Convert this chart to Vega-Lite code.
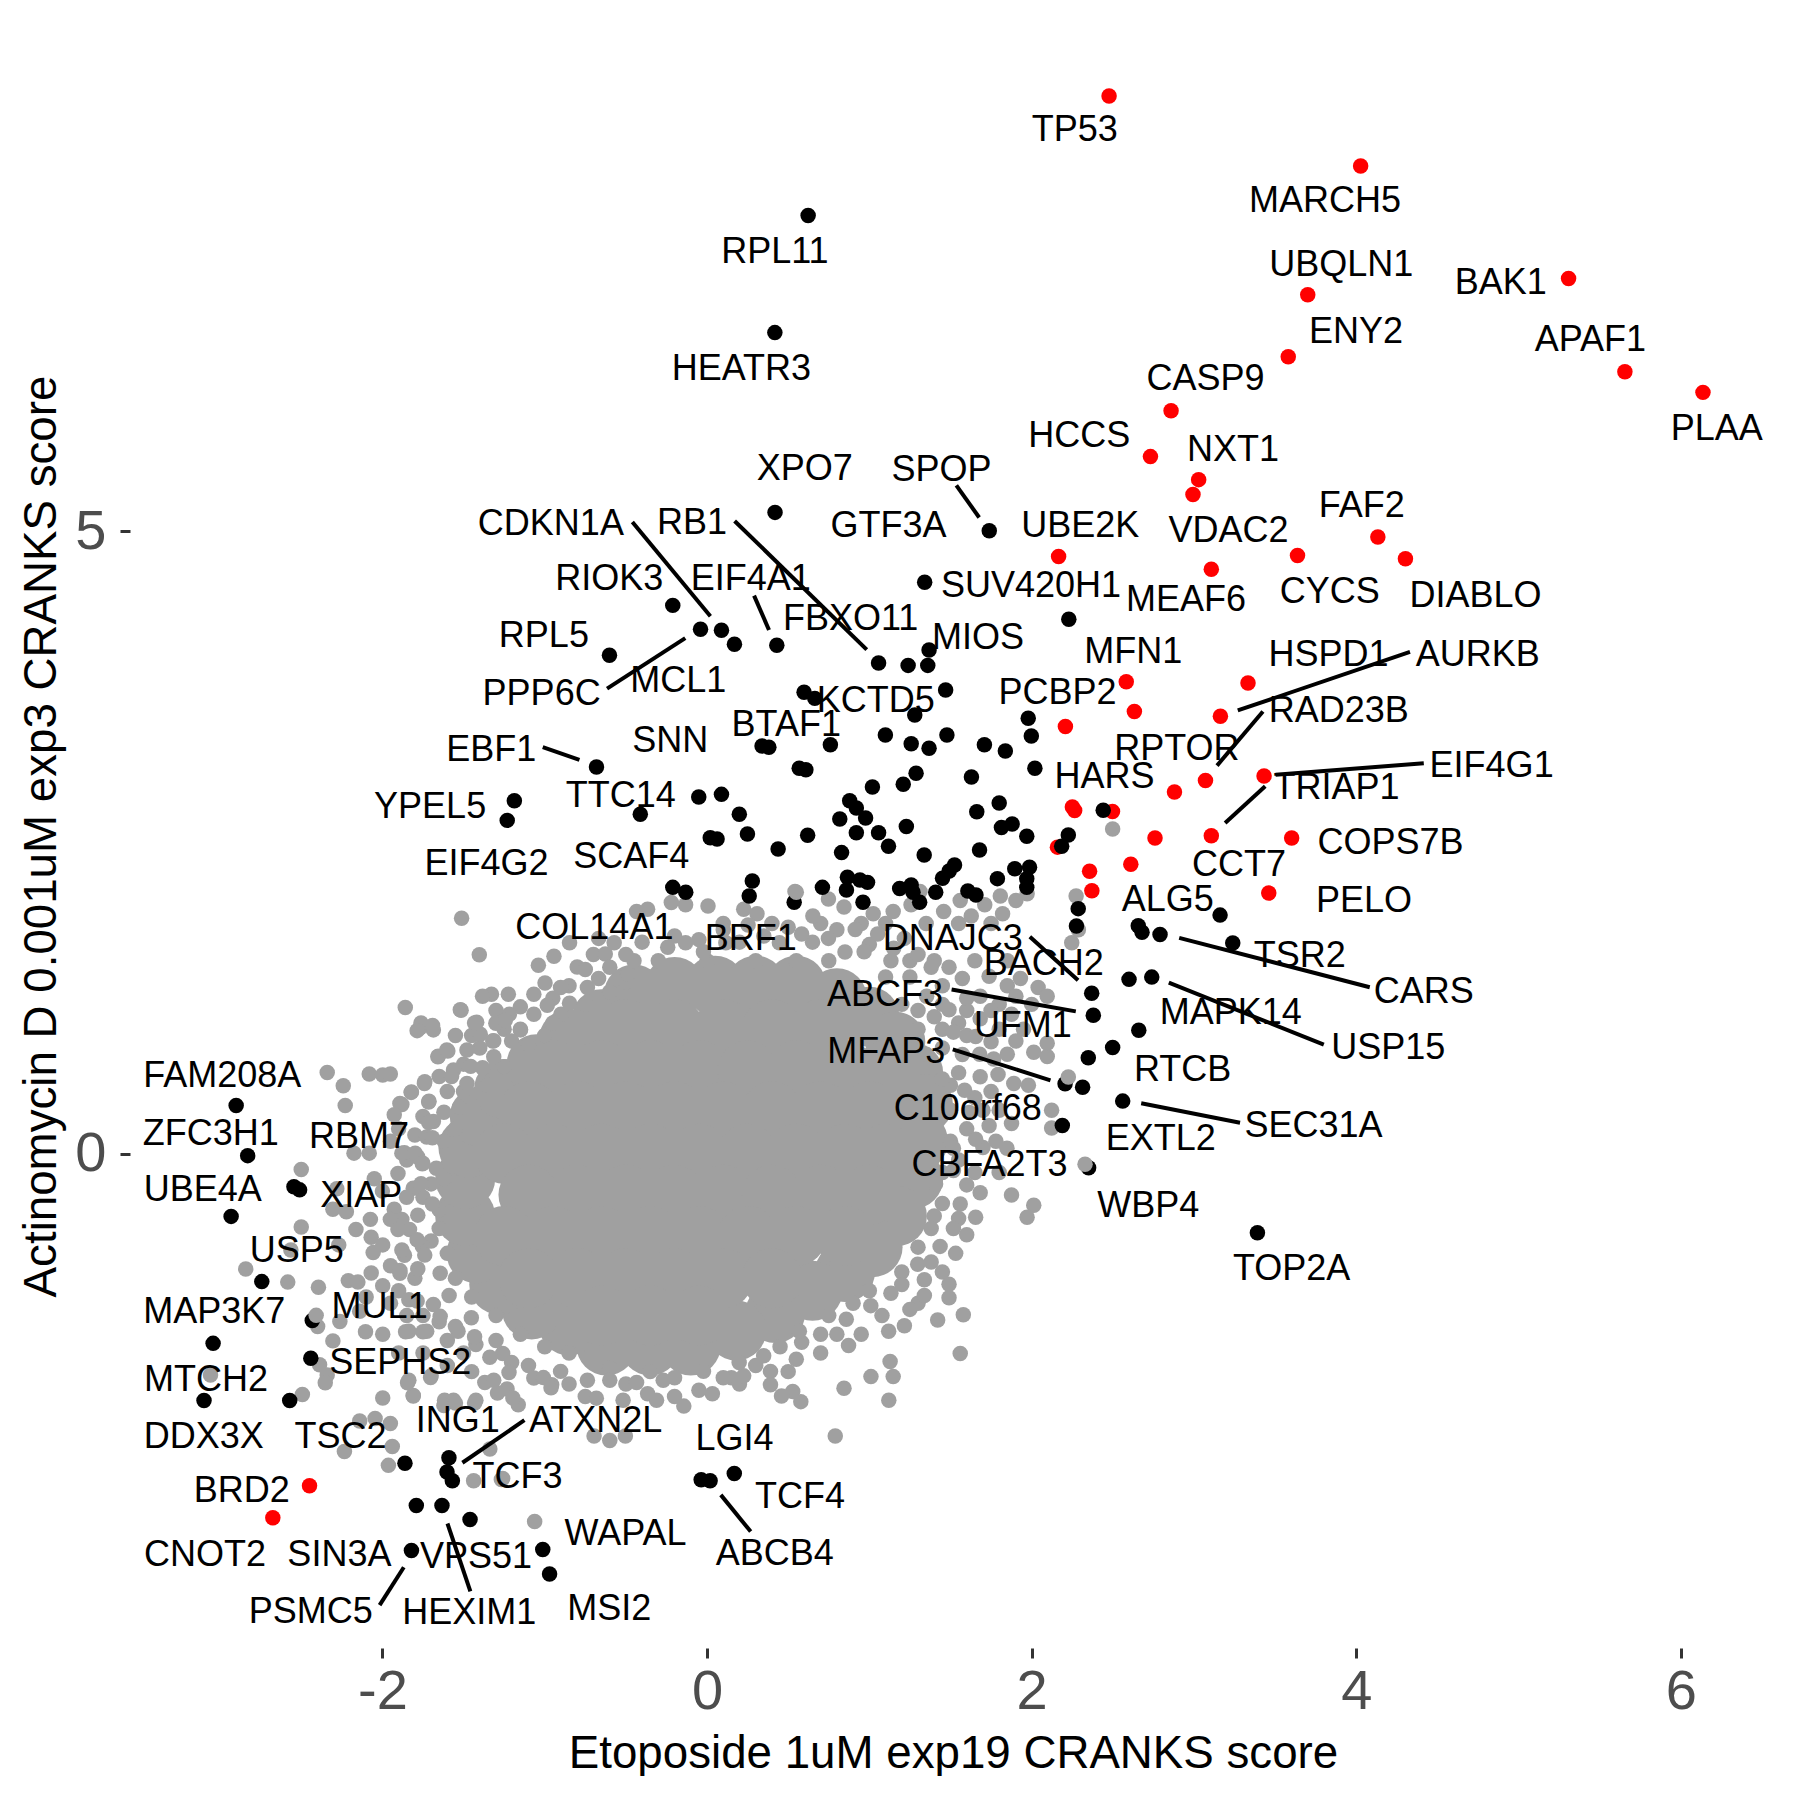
{"$schema":"https://vega.github.io/schema/vega-lite/v6.json","width":1646,"height":1624,"autosize":{"type":"none"},"padding":{"left":130,"top":24,"right":24,"bottom":128},"background":"white","config":{"view":{"stroke":null},"font":"Liberation Sans"},
"layer":[
{"data":{"values":[
{"x":-0.45,"y":1.28},{"x":-0.2,"y":1.34},{"x":0.05,"y":1.35},{"x":0.3,"y":1.35},{"x":0.55,"y":1.35},{"x":0.8,"y":1.25},{"x":1.0,"y":1.1},{"x":1.16,"y":0.9},{"x":1.27,"y":0.65},{"x":1.33,"y":0.4},{"x":1.3,"y":0.1},{"x":1.27,"y":-0.2},{"x":1.17,"y":-0.5},{"x":1.02,"y":-0.75},{"x":0.85,"y":-0.95},{"x":0.65,"y":-1.1},{"x":0.42,"y":-1.28},{"x":0.18,"y":-1.42},{"x":-0.1,"y":-1.54},{"x":-0.35,"y":-1.54},{"x":-0.62,"y":-1.54},{"x":-0.85,"y":-1.38},{"x":-1.08,"y":-1.25},{"x":-1.28,"y":-1.05},{"x":-1.42,"y":-0.8},{"x":-1.49,"y":-0.5},{"x":-1.49,"y":-0.2},{"x":-1.47,"y":0.05},{"x":-1.4,"y":0.3},{"x":-1.25,"y":0.52},{"x":-1.05,"y":0.72},{"x":-0.85,"y":0.92},{"x":-0.65,"y":1.08},
{"x":-0.5,"y":1.0},{"x":-0.2,"y":1.0},{"x":0.1,"y":1.0},{"x":0.4,"y":1.0},{"x":0.7,"y":1.0},
{"x":-0.95,"y":0.67},{"x":-0.65,"y":0.67},{"x":-0.35,"y":0.67},{"x":-0.05,"y":0.67},{"x":0.25,"y":0.67},{"x":0.55,"y":0.67},{"x":0.85,"y":0.67},{"x":1.1,"y":0.67},
{"x":-1.1,"y":0.34},{"x":-0.8,"y":0.34},{"x":-0.5,"y":0.34},{"x":-0.2,"y":0.34},{"x":0.1,"y":0.34},{"x":0.4,"y":0.34},{"x":0.7,"y":0.34},{"x":1.0,"y":0.34},
{"x":-1.25,"y":0.0},{"x":-0.95,"y":0.0},{"x":-0.65,"y":0.0},{"x":-0.35,"y":0.0},{"x":-0.05,"y":0.0},{"x":0.25,"y":0.0},{"x":0.55,"y":0.0},{"x":0.85,"y":0.0},{"x":1.1,"y":0.0},
{"x":-1.1,"y":-0.33},{"x":-0.8,"y":-0.33},{"x":-0.5,"y":-0.33},{"x":-0.2,"y":-0.33},{"x":0.1,"y":-0.33},{"x":0.4,"y":-0.33},{"x":0.7,"y":-0.33},{"x":1.0,"y":-0.33},
{"x":-1.25,"y":-0.66},{"x":-0.95,"y":-0.66},{"x":-0.65,"y":-0.66},{"x":-0.35,"y":-0.66},{"x":-0.05,"y":-0.66},{"x":0.25,"y":-0.66},{"x":0.55,"y":-0.66},{"x":0.85,"y":-0.66},
{"x":-1.1,"y":-1.0},{"x":-0.8,"y":-1.0},{"x":-0.5,"y":-1.0},{"x":-0.2,"y":-1.0},{"x":0.1,"y":-1.0},{"x":0.4,"y":-1.0},
{"x":-0.65,"y":-1.3},{"x":-0.35,"y":-1.3},{"x":-0.05,"y":-1.3}
]},"mark":{"type":"point","filled":true,"opacity":1,"size":3600,"color":"#A0A0A0"},"encoding":{"x":{"field":"x","type":"quantitative","scale":{"domain":[-3.555,6.586],"nice":false,"zero":false},"axis":{"values":[-2,0,2,4,6],"labelExpr":"''+datum.value","grid":false,"domain":false,"title":"Etoposide 1uM exp19 CRANKS score","titleFontSize":45.7,"titleFont":"Liberation Sans","titleFontWeight":"normal","titleColor":"#000000","titleY":105,"titleBaseline":"middle","labelFontSize":56,"labelColor":"#4D4D4D","labelFont":"Liberation Sans","labelPadding":6,"tickColor":"#333333","tickWidth":3,"tickSize":10}},"y":{"field":"y","type":"quantitative","scale":{"domain":[-3.97,9.075],"nice":false,"zero":false},"axis":{"values":[0,5],"labelExpr":"''+datum.value","grid":false,"domain":false,"title":"Actinomycin D 0.001uM exp3 CRANKS score","titleFontSize":45.7,"titleFont":"Liberation Sans","titleFontWeight":"normal","titleColor":"#000000","titleX":-89,"titleBaseline":"middle","labelFontSize":56,"labelColor":"#4D4D4D","labelFont":"Liberation Sans","labelPadding":14,"tickColor":"#333333","tickWidth":3,"tickSize":10}}}},
{"data":{"values":[
{"x":0.1,"y":1.85,"g":"g"},{"x":0.4,"y":1.85,"g":"g"},{"x":0.7,"y":1.85,"g":"g"},{"x":0.95,"y":1.85,"g":"g"},{"x":1.1,"y":1.85,"g":"g"},{"x":1.35,"y":1.85,"g":"g"},{"x":1.55,"y":1.85,"g":"g"},{"x":1.75,"y":1.85,"g":"g"},{"x":0.0,"y":1.55,"g":"g"},{"x":0.3,"y":1.55,"g":"g"},{"x":0.55,"y":1.55,"g":"g"},{"x":0.75,"y":1.55,"g":"g"},{"x":1.25,"y":1.55,"g":"g"},{"x":1.4,"y":1.55,"g":"g"},{"x":1.65,"y":1.55,"g":"g"},{"x":1.85,"y":1.55,"g":"g"},{"x":1.2,"y":1.2,"g":"g"},{"x":1.45,"y":1.2,"g":"g"},{"x":1.8,"y":1.2,"g":"g"},{"x":2.0,"y":1.2,"g":"g"},{"x":1.6,"y":1.15,"g":"g"},{"x":1.3,"y":1.0,"g":"g"},{"x":1.45,"y":1.0,"g":"g"},{"x":1.8,"y":1.0,"g":"g"},{"x":1.95,"y":1.0,"g":"g"},{"x":1.35,"y":0.8,"g":"g"},{"x":1.68,"y":0.8,"g":"g"},{"x":1.85,"y":0.8,"g":"g"},{"x":1.5,"y":0.55,"g":"g"},{"x":1.98,"y":0.55,"g":"g"},{"x":1.5,"y":0.35,"g":"g"},{"x":1.8,"y":0.35,"g":"g"},{"x":1.7,"y":0.35,"g":"g"},{"x":1.5,"y":0.1,"g":"g"},{"x":1.78,"y":0.1,"g":"g"},{"x":1.45,"y":-0.15,"g":"g"},{"x":1.65,"y":-0.15,"g":"g"},{"x":1.8,"y":-0.15,"g":"g"},
{"x":1.4,"y":-0.5,"g":"g"},{"x":1.55,"y":-0.52,"g":"g"},{"x":1.3,"y":-0.75,"g":"g"},{"x":1.2,"y":-0.95,"g":"g"},{"x":1.3,"y":-1.2,"g":"g"},{"x":1.0,"y":-1.1,"g":"g"},{"x":0.9,"y":-1.2,"g":"g"},{"x":0.75,"y":-1.3,"g":"g"},{"x":0.7,"y":-1.45,"g":"g"},{"x":0.45,"y":-1.55,"g":"g"},{"x":0.3,"y":-1.7,"g":"g"},{"x":0.15,"y":-1.8,"g":"g"},{"x":-0.2,"y":-1.8,"g":"g"},{"x":-0.35,"y":-1.75,"g":"g"},{"x":-0.6,"y":-1.72,"g":"g"},{"x":-0.85,"y":-1.6,"g":"g"},{"x":-1.0,"y":-1.55,"g":"g"},{"x":-1.15,"y":-1.45,"g":"g"},{"x":-1.3,"y":-1.3,"g":"g"},{"x":-1.45,"y":-1.15,"g":"g"},{"x":-1.55,"y":-1.0,"g":"g"},{"x":-1.6,"y":-0.8,"g":"g"},{"x":-1.65,"y":-0.45,"g":"g"},{"x":-1.62,"y":-0.2,"g":"g"},{"x":-1.62,"y":0.1,"g":"g"},{"x":-1.55,"y":0.2,"g":"g"},{"x":-1.5,"y":0.5,"g":"g"},{"x":-1.35,"y":0.55,"g":"g"},{"x":-1.25,"y":0.7,"g":"g"},{"x":-1.1,"y":0.88,"g":"g"},{"x":-1.0,"y":0.95,"g":"g"},{"x":-0.9,"y":1.12,"g":"g"},{"x":-0.75,"y":1.2,"g":"g"},{"x":-0.6,"y":1.3,"g":"g"},{"x":-0.5,"y":1.38,"g":"g"},{"x":-0.95,"y":1.25,"g":"g"},{"x":-1.15,"y":1.0,"g":"g"},{"x":-1.45,"y":0.95,"g":"g"},{"x":-1.55,"y":0.95,"g":"g"},{"x":-1.3,"y":1.15,"g":"g"},{"x":-0.8,"y":1.5,"g":"g"},{"x":-0.7,"y":1.6,"g":"g"},
{"x":-2.0,"y":-0.3,"g":"g"},{"x":-1.95,"y":-0.9,"g":"g"},{"x":-1.9,"y":-1.1,"g":"g"},{"x":-1.85,"y":-1.3,"g":"g"},{"x":-1.95,"y":-1.2,"g":"g"},{"x":-2.1,"y":-1.15,"g":"g"},{"x":-1.9,"y":-1.6,"g":"g"},{"x":-1.75,"y":-1.6,"g":"g"},{"x":-1.6,"y":-1.7,"g":"g"},{"x":-1.45,"y":-1.75,"g":"g"},{"x":-2.05,"y":-0.2,"g":"g"},{"x":-1.95,"y":0.1,"g":"g"},{"x":-1.9,"y":0.2,"g":"g"},{"x":-1.8,"y":0.15,"g":"g"},{"x":-1.85,"y":-0.05,"g":"g"},
{"x":-0.5,"y":1.6,"g":"g"},{"x":-0.4,"y":1.7,"g":"g"},{"x":-0.3,"y":1.55,"g":"g"},{"x":-0.2,"y":1.75,"g":"g"},{"x":-0.05,"y":1.72,"g":"g"},{"x":0.1,"y":1.8,"g":"g"},{"x":0.2,"y":1.7,"g":"g"},{"x":0.35,"y":1.75,"g":"g"},{"x":0.5,"y":1.82,"g":"g"},{"x":0.65,"y":1.7,"g":"g"},{"x":0.8,"y":1.8,"g":"g"},{"x":0.85,"y":1.62,"g":"g"},{"x":1.0,"y":1.68,"g":"g"},{"x":1.15,"y":1.65,"g":"g"},{"x":1.3,"y":1.6,"g":"g"},{"x":1.25,"y":1.42,"g":"g"},{"x":1.1,"y":1.42,"g":"g"},{"x":1.45,"y":1.35,"g":"g"},{"x":1.6,"y":1.25,"g":"g"},{"x":1.75,"y":1.15,"g":"g"},{"x":1.85,"y":1.35,"g":"g"},{"x":1.55,"y":1.05,"g":"g"},{"x":1.45,"y":0.85,"g":"g"},{"x":1.6,"y":0.95,"g":"g"},{"x":1.75,"y":0.9,"g":"g"},{"x":1.4,"y":1.1,"g":"g"},{"x":1.3,"y":1.15,"g":"g"},{"x":1.55,"y":0.65,"g":"g"},{"x":1.45,"y":0.6,"g":"g"},{"x":1.65,"y":0.45,"g":"g"},{"x":1.75,"y":0.5,"g":"g"},{"x":1.6,"y":0.2,"g":"g"},{"x":1.7,"y":0.05,"g":"g"},{"x":1.55,"y":-0.05,"g":"g"},{"x":1.6,"y":-0.25,"g":"g"},{"x":1.45,"y":-0.4,"g":"g"},{"x":1.6,"y":-0.65,"g":"g"},{"x":1.45,"y":-0.95,"g":"g"},{"x":1.25,"y":-1.25,"g":"g"},{"x":1.2,"y":-1.05,"g":"g"},{"x":0.95,"y":-1.45,"g":"g"},{"x":0.8,"y":-1.45,"g":"g"},{"x":0.7,"y":-1.6,"g":"g"},{"x":0.55,"y":-1.65,"g":"g"},{"x":0.5,"y":-1.75,"g":"g"},{"x":0.2,"y":-1.85,"g":"g"},{"x":0.1,"y":-1.8,"g":"g"},{"x":-0.05,"y":-1.9,"g":"g"},{"x":-0.2,"y":-1.95,"g":"g"},{"x":-0.5,"y":-1.85,"g":"g"},{"x":-0.75,"y":-1.95,"g":"g"},{"x":-0.85,"y":-1.85,"g":"g"},{"x":-1.1,"y":-1.7,"g":"g"},{"x":-1.3,"y":-1.5,"g":"g"},{"x":-1.5,"y":-1.6,"g":"g"},{"x":-1.6,"y":-1.5,"g":"g"},{"x":-1.65,"y":-1.35,"g":"g"},{"x":-1.75,"y":-1.3,"g":"g"},{"x":-1.8,"y":-1.0,"g":"g"},{"x":-1.7,"y":-0.7,"g":"g"},{"x":-1.65,"y":-0.6,"g":"g"},{"x":-1.75,"y":-0.35,"g":"g"},{"x":-1.75,"y":0.3,"g":"g"},{"x":-1.6,"y":0.5,"g":"g"},{"x":-1.65,"y":0.62,"g":"g"},{"x":-1.5,"y":0.72,"g":"g"},{"x":-1.4,"y":0.85,"g":"g"},{"x":-1.25,"y":1.0,"g":"g"},{"x":-1.15,"y":1.18,"g":"g"},{"x":-0.95,"y":1.05,"g":"g"},{"x":-0.85,"y":1.35,"g":"g"},{"x":-0.75,"y":1.48,"g":"g"},{"x":-0.45,"y":1.55,"g":"g"},
{"x":-1.512,"y":1.892,"g":"g"},{"x":-1.403,"y":1.598,"g":"g"},{"x":-0.22,"y":2.018,"g":"g"},{"x":-0.434,"y":1.946,"g":"g"},{"x":-0.366,"y":1.964,"g":"g"},{"x":-0.132,"y":2.0,"g":"g"},{"x":0.006,"y":1.99,"g":"g"},{"x":0.226,"y":1.964,"g":"g"},{"x":0.308,"y":1.928,"g":"g"},{"x":0.542,"y":2.107,"g":"g"},{"x":0.748,"y":2.046,"g":"g"},{"x":0.652,"y":1.91,"g":"g"},{"x":0.844,"y":1.982,"g":"g"},{"x":1.024,"y":1.928,"g":"g"},{"x":1.147,"y":1.946,"g":"g"},{"x":1.257,"y":2.0,"g":"g"},{"x":1.312,"y":2.107,"g":"g"},{"x":1.458,"y":1.946,"g":"g"},{"x":1.56,"y":2.035,"g":"g"},{"x":1.711,"y":2.0,"g":"g"},{"x":1.807,"y":2.071,"g":"g"},{"x":1.903,"y":2.035,"g":"g"},{"x":1.972,"y":2.089,"g":"g"},{"x":1.628,"y":1.91,"g":"g"},{"x":1.821,"y":1.928,"g":"g"},{"x":2.274,"y":2.071,"g":"g"},{"x":2.247,"y":1.695,"g":"g"},{"x":2.288,"y":1.8,"g":"g"},
{"x":-0.847,"y":1.695,"g":"g"},{"x":-0.943,"y":1.587,"g":"g"},{"x":-1.039,"y":1.515,"g":"g"},{"x":-0.998,"y":1.372,"g":"g"},{"x":-0.902,"y":1.336,"g":"g"},{"x":-0.668,"y":1.73,"g":"g"},{"x":-0.572,"y":1.695,"g":"g"},{"x":-0.627,"y":1.605,"g":"g"},{"x":-0.599,"y":1.498,"g":"g"},{"x":-0.489,"y":1.444,"g":"g"},{"x":-0.668,"y":1.408,"g":"g"},{"x":-0.737,"y":1.336,"g":"g"},{"x":-0.242,"y":1.659,"g":"g"},{"x":-0.132,"y":1.695,"g":"g"},{"x":-0.022,"y":1.623,"g":"g"},{"x":0.116,"y":1.695,"g":"g"},{"x":0.253,"y":1.838,"g":"g"},{"x":0.446,"y":1.695,"g":"g"},{"x":0.583,"y":1.766,"g":"g"},{"x":0.748,"y":1.73,"g":"g"},{"x":0.913,"y":1.802,"g":"g"},{"x":1.051,"y":1.766,"g":"g"},{"x":1.216,"y":1.73,"g":"g"},{"x":0.968,"y":1.623,"g":"g"},{"x":1.133,"y":1.551,"g":"g"},{"x":1.381,"y":1.498,"g":"g"},{"x":1.491,"y":1.498,"g":"g"},{"x":1.573,"y":1.408,"g":"g"},{"x":1.738,"y":1.426,"g":"g"},{"x":1.931,"y":1.408,"g":"g"},{"x":2.04,"y":1.336,"g":"g"},{"x":1.353,"y":1.265,"g":"g"},{"x":1.683,"y":1.265,"g":"g"},{"x":1.903,"y":1.265,"g":"g"},{"x":2.096,"y":1.265,"g":"g"},{"x":1.491,"y":1.157,"g":"g"},{"x":1.683,"y":1.085,"g":"g"},{"x":1.876,"y":1.121,"g":"g"},{"x":1.518,"y":0.977,"g":"g"},{"x":1.655,"y":0.941,"g":"g"},{"x":1.903,"y":0.906,"g":"g"},{"x":2.013,"y":0.816,"g":"g"},{"x":2.096,"y":0.781,"g":"g"},{"x":2.096,"y":0.888,"g":"g"},{"x":1.573,"y":0.798,"g":"g"},{"x":1.766,"y":0.762,"g":"g"},{"x":1.683,"y":0.619,"g":"g"},{"x":1.793,"y":0.637,"g":"g"},{"x":1.587,"y":0.511,"g":"g"},{"x":1.89,"y":0.565,"g":"g"},{"x":2.123,"y":0.35,"g":"g"},{"x":2.123,"y":0.207,"g":"g"},{"x":1.876,"y":0.243,"g":"g"},{"x":1.738,"y":0.225,"g":"g"},{"x":1.655,"y":0.117,"g":"g"},{"x":1.615,"y":0.332,"g":"g"},{"x":1.848,"y":0.045,"g":"g"},{"x":1.518,"y":0.045,"g":"g"},{"x":1.518,"y":-0.134,"g":"g"},{"x":1.683,"y":-0.313,"g":"g"},{"x":1.876,"y":-0.331,"g":"g"},{"x":2.013,"y":-0.414,"g":"g"},{"x":1.972,"y":-0.51,"g":"g"},{"x":1.655,"y":-0.51,"g":"g"},{"x":1.56,"y":-0.403,"g":"g"},{"x":1.408,"y":-0.242,"g":"g"},{"x":1.518,"y":-0.6,"g":"g"},{"x":1.381,"y":-0.6,"g":"g"},{"x":1.436,"y":-0.744,"g":"g"},{"x":1.532,"y":-0.8,"g":"g"},{"x":1.298,"y":-0.887,"g":"g"},{"x":1.381,"y":-0.869,"g":"g"},{"x":1.339,"y":-1.012,"g":"g"},{"x":1.491,"y":-1.048,"g":"g"},{"x":1.339,"y":-1.138,"g":"g"},{"x":1.491,"y":-1.156,"g":"g"},{"x":1.133,"y":-1.12,"g":"g"},{"x":1.009,"y":-1.22,"g":"g"},{"x":1.078,"y":-1.3,"g":"g"},{"x":0.858,"y":-1.329,"g":"g"},{"x":1.216,"y":-1.382,"g":"g"},{"x":1.119,"y":-1.425,"g":"g"},{"x":1.421,"y":-1.336,"g":"g"},{"x":1.579,"y":-1.293,"g":"g"},{"x":0.872,"y":-1.54,"g":"g"},{"x":0.583,"y":-1.515,"g":"g"},{"x":0.569,"y":-1.425,"g":"g"},{"x":1.56,"y":-1.604,"g":"g"},{"x":1.128,"y":-1.669,"g":"g"},{"x":1.147,"y":-1.79,"g":"g"},{"x":1.01,"y":-1.79,"g":"g"},{"x":0.844,"y":-1.884,"g":"g"},{"x":1.12,"y":-1.98,"g":"g"},{"x":0.79,"y":-2.267,"g":"g"},{"x":0.528,"y":-1.909,"g":"g"},{"x":0.459,"y":-1.945,"g":"g"},{"x":0.578,"y":-1.991,"g":"g"},{"x":0.391,"y":-1.748,"g":"g"},{"x":0.391,"y":-1.855,"g":"g"},{"x":0.226,"y":-1.784,"g":"g"},{"x":0.349,"y":-1.623,"g":"g"},{"x":0.198,"y":-1.676,"g":"g"},{"x":0.033,"y":-1.927,"g":"g"},{"x":-0.143,"y":-2.027,"g":"g"},{"x":-0.022,"y":-1.748,"g":"g"},{"x":-0.27,"y":-1.819,"g":"g"},{"x":-0.366,"y":-1.927,"g":"g"},{"x":-0.311,"y":-1.98,"g":"g"},{"x":-0.517,"y":-1.98,"g":"g"},{"x":-0.434,"y":-1.837,"g":"g"},{"x":-0.599,"y":-1.819,"g":"g"},{"x":-0.682,"y":-1.963,"g":"g"},{"x":-0.503,"y":-2.267,"g":"g"},{"x":-0.599,"y":-2.303,"g":"g"},{"x":-0.696,"y":-2.267,"g":"g"},{"x":-0.957,"y":-1.855,"g":"g"},{"x":-1.067,"y":-1.801,"g":"g"},{"x":-1.163,"y":-2.016,"g":"g"},{"x":-1.232,"y":-1.89,"g":"g"},{"x":-1.369,"y":-1.837,"g":"g"},{"x":-1.314,"y":-1.819,"g":"g"},{"x":-1.617,"y":-1.98,"g":"g"},{"x":-1.562,"y":-1.98,"g":"g"},{"x":-1.424,"y":-1.98,"g":"g"},{"x":-1.81,"y":-1.945,"g":"g"},{"x":-1.837,"y":-1.819,"g":"g"},{"x":-1.7,"y":-1.784,"g":"g"},{"x":-1.204,"y":-1.676,"g":"g"},{"x":-1.424,"y":-1.533,"g":"g"},{"x":-1.534,"y":-1.425,"g":"g"},{"x":-1.727,"y":-1.425,"g":"g"},{"x":-1.452,"y":-1.318,"g":"g"},{"x":-1.837,"y":-1.425,"g":"g"},{"x":-1.259,"y":-1.604,"g":"g"},{"x":-0.902,"y":-1.748,"g":"g"},{"x":-0.737,"y":-1.819,"g":"g"},{"x":-1.259,"y":-2.608,"g":"g"},{"x":-1.438,"y":-2.626,"g":"g"},
{"x":-1.328,"y":1.282,"g":"g"},{"x":-1.383,"y":1.265,"g":"g"},{"x":-1.224,"y":1.282,"g":"g"},{"x":-1.067,"y":1.282,"g":"g"},{"x":-1.52,"y":1.157,"g":"g"},{"x":-1.859,"y":1.175,"g":"g"},{"x":-1.419,"y":1.056,"g":"g"},{"x":-1.301,"y":1.049,"g":"g"},{"x":-1.218,"y":1.121,"g":"g"},{"x":-1.768,"y":1.013,"g":"g"},{"x":-1.686,"y":0.995,"g":"g"},{"x":-1.397,"y":0.96,"g":"g"},{"x":-1.32,"y":0.906,"g":"g"},{"x":-1.149,"y":0.995,"g":"g"},{"x":-1.067,"y":1.121,"g":"g"},{"x":-0.984,"y":1.193,"g":"g"},{"x":-0.847,"y":1.21,"g":"g"},{"x":-1.603,"y":0.834,"g":"g"},{"x":-1.658,"y":0.78,"g":"g"},{"x":-1.479,"y":0.834,"g":"g"},{"x":-1.314,"y":0.78,"g":"g"},{"x":-1.562,"y":0.673,"g":"g"},{"x":-1.741,"y":0.565,"g":"g"},{"x":-1.479,"y":0.565,"g":"g"},{"x":-1.383,"y":0.691,"g":"g"},{"x":-1.204,"y":0.906,"g":"g"},{"x":-1.823,"y":0.493,"g":"g"},{"x":-1.713,"y":0.422,"g":"g"},{"x":-1.892,"y":0.404,"g":"g"},{"x":-1.686,"y":0.26,"g":"g"},{"x":-1.727,"y":0.135,"g":"g"},{"x":-1.782,"y":-0.026,"g":"g"},{"x":-1.864,"y":0.009,"g":"g"},{"x":-1.754,"y":-0.08,"g":"g"},{"x":-1.81,"y":-0.277,"g":"g"},{"x":-1.7,"y":-0.242,"g":"g"},{"x":-1.851,"y":-0.349,"g":"g"},{"x":-1.782,"y":-0.493,"g":"g"},{"x":-1.754,"y":-0.744,"g":"g"},{"x":-1.864,"y":-0.816,"g":"g"},{"x":-1.782,"y":-0.923,"g":"g"},{"x":-1.644,"y":-0.959,"g":"g"},{"x":-1.892,"y":-0.959,"g":"g"},{"x":-1.686,"y":-1.21,"g":"g"},{"x":-1.589,"y":-1.138,"g":"g"},{"x":-1.837,"y":-1.173,"g":"g"},
{"x":-2.34,"y":0.653,"g":"g"},{"x":-2.241,"y":0.546,"g":"g"},{"x":-2.229,"y":0.387,"g":"g"},{"x":-2.081,"y":0.641,"g":"g"},{"x":-1.998,"y":0.633,"g":"g"},{"x":-1.951,"y":0.641,"g":"g"},{"x":-1.739,"y":0.579,"g":"g"},{"x":-1.821,"y":0.497,"g":"g"},{"x":-1.88,"y":0.395,"g":"g"},{"x":-1.927,"y":0.313,"g":"g"},{"x":-1.715,"y":0.415,"g":"g"},{"x":-1.656,"y":0.784,"g":"g"},{"x":-1.597,"y":0.825,"g":"g"},{"x":-1.762,"y":1.05,"g":"g"},{"x":-1.691,"y":1.03,"g":"g"},{"x":-1.515,"y":1.153,"g":"g"},{"x":-1.432,"y":1.05,"g":"g"},{"x":-1.786,"y":0.989,"g":"g"},{"x":-1.574,"y":0.62,"g":"g"},{"x":-2.5,"y":-0.126,"g":"g"},{"x":-2.175,"y":0.005,"g":"g"},{"x":-2.081,"y":0.005,"g":"g"},{"x":-1.88,"y":0.005,"g":"g"},{"x":-1.798,"y":0.005,"g":"g"},{"x":-1.751,"y":-0.076,"g":"g"},{"x":-1.904,"y":-0.158,"g":"g"},{"x":-1.762,"y":-0.24,"g":"g"},{"x":-2.281,"y":-0.281,"g":"g"},{"x":-2.305,"y":-0.445,"g":"g"},{"x":-2.222,"y":-0.466,"g":"g"},{"x":-2.074,"y":-0.527,"g":"g"},{"x":-1.927,"y":-0.445,"g":"g"},{"x":-1.88,"y":-0.527,"g":"g"},{"x":-1.833,"y":-0.609,"g":"g"},{"x":-2.5,"y":-0.589,"g":"g"},{"x":-2.163,"y":-0.609,"g":"g"},{"x":-2.069,"y":-0.671,"g":"g"},{"x":-1.998,"y":-0.732,"g":"g"},{"x":-2.057,"y":-0.794,"g":"g"},{"x":-2.564,"y":-0.773,"g":"g"},{"x":-2.269,"y":-0.732,"g":"g"},{"x":-2.842,"y":-0.925,"g":"g"},{"x":-2.583,"y":-1.031,"g":"g"},{"x":-2.394,"y":-1.072,"g":"g"},{"x":-2.21,"y":-1.019,"g":"g"},{"x":-2.151,"y":-1.031,"g":"g"},{"x":-2.069,"y":-0.958,"g":"g"},{"x":-1.998,"y":-1.06,"g":"g"},{"x":-1.892,"y":-0.937,"g":"g"},{"x":-1.88,"y":-0.773,"g":"g"},{"x":-1.786,"y":-1.183,"g":"g"},{"x":-2.399,"y":-1.388,"g":"g"},{"x":-2.262,"y":-1.347,"g":"g"},{"x":-2.14,"y":-1.265,"g":"g"},{"x":-2.104,"y":-1.429,"g":"g"},{"x":-1.998,"y":-1.45,"g":"g"},{"x":-1.857,"y":-1.429,"g":"g"},{"x":-2.305,"y":-1.503,"g":"g"},{"x":-1.75,"y":-1.429,"g":"g"},{"x":-2.387,"y":-1.695,"g":"g"},{"x":-2.34,"y":-1.777,"g":"g"},{"x":-2.352,"y":-1.839,"g":"g"},{"x":-1.998,"y":-1.962,"g":"g"},{"x":-1.81,"y":-1.941,"g":"g"},{"x":-2.493,"y":-1.933,"g":"g"},{"x":-3.059,"y":-1.777,"g":"g"},{"x":-2.14,"y":-2.146,"g":"g"},{"x":-2.045,"y":-2.126,"g":"g"},{"x":-1.951,"y":-2.167,"g":"g"},{"x":-1.939,"y":-2.351,"g":"g"},{"x":-2.234,"y":-2.392,"g":"g"},{"x":-1.963,"y":-2.503,"g":"g"},{"x":-1.621,"y":-2.023,"g":"g"},{"x":-1.55,"y":-2.003,"g":"g"},{"x":-1.432,"y":-2.003,"g":"g"},{"x":-1.291,"y":-1.921,"g":"g"},{"x":-1.196,"y":-1.961,"g":"g"},{"x":-1.338,"y":-2.372,"g":"g"},{"x":-1.267,"y":-2.617,"g":"g"},{"x":-1.062,"y":-2.954,"g":"g"},{"x":-1.845,"y":-1.839,"g":"g"},{"x":-1.703,"y":-1.798,"g":"g"},{"x":-1.951,"y":-0.527,"g":"g"},{"x":-1.904,"y":-0.609,"g":"g"},{"x":-1.786,"y":-0.691,"g":"g"},{"x":-1.739,"y":-0.814,"g":"g"},{"x":-1.692,"y":-0.404,"g":"g"},{"x":-1.668,"y":-0.117,"g":"g"},{"x":-1.692,"y":0.128,"g":"g"},{"x":-1.715,"y":0.251,"g":"g"},{"x":-1.621,"y":0.333,"g":"g"},{"x":-1.526,"y":0.374,"g":"g"},{"x":-1.456,"y":0.702,"g":"g"},{"x":-1.314,"y":0.907,"g":"g"},{"x":-1.243,"y":1.071,"g":"g"},{"x":-1.644,"y":-1.306,"g":"g"},{"x":-1.55,"y":-1.388,"g":"g"},{"x":-1.432,"y":-1.47,"g":"g"},{"x":-1.338,"y":-1.634,"g":"g"},{"x":-1.22,"y":-1.757,"g":"g"},{"x":-1.008,"y":-1.798,"g":"g"},{"x":-0.961,"y":-1.88,"g":"g"},
{"x":2.477,"y":8.496,"g":"r"},{"x":4.027,"y":7.934,"g":"r"},{"x":5.308,"y":7.03,"g":"r"},{"x":3.701,"y":6.9,"g":"r"},{"x":3.581,"y":6.402,"g":"r"},{"x":5.655,"y":6.282,"g":"r"},{"x":6.136,"y":6.116,"g":"r"},{"x":2.859,"y":5.969,"g":"r"},{"x":2.732,"y":5.6,"g":"r"},{"x":3.029,"y":5.415,"g":"r"},{"x":2.994,"y":5.295,"g":"r"},{"x":4.133,"y":4.954,"g":"r"},{"x":3.638,"y":4.806,"g":"r"},{"x":4.303,"y":4.779,"g":"r"},{"x":3.107,"y":4.696,"g":"r"},{"x":2.166,"y":4.797,"g":"r"},{"x":2.583,"y":3.791,"g":"r"},{"x":3.333,"y":3.782,"g":"r"},{"x":2.633,"y":3.552,"g":"r"},{"x":3.163,"y":3.515,"g":"r"},{"x":2.208,"y":3.432,"g":"r"},{"x":3.071,"y":2.998,"g":"r"},{"x":3.432,"y":3.035,"g":"r"},{"x":2.88,"y":2.906,"g":"r"},{"x":2.251,"y":2.786,"g":"r"},{"x":2.265,"y":2.758,"g":"r"},{"x":2.498,"y":2.749,"g":"r"},{"x":2.76,"y":2.537,"g":"r"},{"x":3.107,"y":2.555,"g":"r"},{"x":3.602,"y":2.537,"g":"r"},{"x":2.159,"y":2.463,"g":"r"},{"x":2.357,"y":2.269,"g":"r"},{"x":2.611,"y":2.325,"g":"r"},{"x":2.371,"y":2.113,"g":"r"},{"x":3.461,"y":2.094,"g":"r"},{"x":-2.449,"y":-2.666,"g":"r"},{"x":-2.675,"y":-2.924,"g":"r"},
{"x":2.499,"y":2.609,"g":"g"},
{"x":0.623,"y":7.537,"g":"b"},{"x":0.418,"y":6.596,"g":"b"},{"x":0.419,"y":5.152,"g":"b"},{"x":1.739,"y":5.005,"g":"b"},{"x":1.341,"y":4.59,"g":"b"},{"x":-0.211,"y":4.405,"g":"b"},{"x":2.229,"y":4.293,"g":"b"},{"x":-0.04,"y":4.213,"g":"b"},{"x":0.089,"y":4.205,"g":"b"},{"x":0.169,"y":4.092,"g":"b"},{"x":0.43,"y":4.084,"g":"b"},{"x":-0.601,"y":4.004,"g":"b"},{"x":1.368,"y":4.047,"g":"b"},{"x":1.057,"y":3.942,"g":"b"},{"x":1.239,"y":3.923,"g":"b"},{"x":1.36,"y":3.923,"g":"b"},{"x":0.598,"y":3.707,"g":"b"},{"x":0.664,"y":3.658,"g":"b"},{"x":1.47,"y":3.725,"g":"b"},{"x":1.28,"y":3.524,"g":"b"},{"x":1.979,"y":3.498,"g":"b"},{"x":1.998,"y":3.356,"g":"b"},{"x":1.099,"y":3.364,"g":"b"},{"x":1.478,"y":3.364,"g":"b"},{"x":1.258,"y":3.294,"g":"b"},{"x":1.368,"y":3.257,"g":"b"},{"x":1.709,"y":3.286,"g":"b"},{"x":1.838,"y":3.235,"g":"b"},{"x":0.76,"y":3.286,"g":"b"},{"x":0.339,"y":3.275,"g":"b"},{"x":0.381,"y":3.265,"g":"b"},{"x":-0.681,"y":3.107,"g":"b"},{"x":0.568,"y":3.096,"g":"b"},{"x":0.609,"y":3.085,"g":"b"},{"x":2.02,"y":3.096,"g":"b"},{"x":1.288,"y":3.056,"g":"b"},{"x":1.629,"y":3.026,"g":"b"},{"x":1.209,"y":2.968,"g":"b"},{"x":1.019,"y":2.946,"g":"b"},{"x":-0.051,"y":2.866,"g":"b"},{"x":0.089,"y":2.887,"g":"b"},{"x":-1.187,"y":2.836,"g":"b"},{"x":-1.231,"y":2.678,"g":"b"},{"x":-0.411,"y":2.727,"g":"b"},{"x":0.199,"y":2.727,"g":"b"},{"x":0.879,"y":2.836,"g":"b"},{"x":0.92,"y":2.778,"g":"b"},{"x":0.977,"y":2.697,"g":"b"},{"x":0.818,"y":2.689,"g":"b"},{"x":1.8,"y":2.818,"g":"b"},{"x":1.662,"y":2.748,"g":"b"},{"x":2.441,"y":2.759,"g":"b"},{"x":2.226,"y":2.561,"g":"b"},{"x":2.185,"y":2.47,"g":"b"},{"x":1.88,"y":2.649,"g":"b"},{"x":1.814,"y":2.62,"g":"b"},{"x":1.97,"y":2.55,"g":"b"},{"x":1.228,"y":2.628,"g":"b"},{"x":0.92,"y":2.579,"g":"b"},{"x":1.057,"y":2.579,"g":"b"},{"x":0.62,"y":2.558,"g":"b"},{"x":0.249,"y":2.569,"g":"b"},{"x":0.02,"y":2.539,"g":"b"},{"x":0.062,"y":2.528,"g":"b"},{"x":1.118,"y":2.47,"g":"b"},{"x":0.438,"y":2.448,"g":"b"},{"x":0.829,"y":2.419,"g":"b"},{"x":1.679,"y":2.44,"g":"b"},{"x":1.338,"y":2.4,"g":"b"},{"x":1.525,"y":2.32,"g":"b"},{"x":1.492,"y":2.271,"g":"b"},{"x":1.451,"y":2.213,"g":"b"},{"x":1.987,"y":2.301,"g":"b"},{"x":1.896,"y":2.29,"g":"b"},{"x":1.789,"y":2.21,"g":"b"},{"x":1.97,"y":2.21,"g":"b"},{"x":1.97,"y":2.14,"g":"b"},{"x":0.865,"y":2.221,"g":"b"},{"x":0.942,"y":2.199,"g":"b"},{"x":0.989,"y":2.18,"g":"b"},{"x":0.279,"y":2.191,"g":"b"},{"x":0.711,"y":2.14,"g":"b"},{"x":1.258,"y":2.159,"g":"b"},{"x":1.187,"y":2.13,"g":"b"},{"x":1.269,"y":2.1,"g":"b"},{"x":0.859,"y":2.119,"g":"b"},{"x":1.409,"y":2.1,"g":"b"},{"x":1.607,"y":2.111,"g":"b"},{"x":1.657,"y":2.079,"g":"b"},{"x":-0.211,"y":2.14,"g":"b"},{"x":-0.131,"y":2.1,"g":"b"},{"x":0.26,"y":2.071,"g":"b"},{"x":1.31,"y":2.02,"g":"b"},{"x":0.961,"y":2.02,"g":"b"},{"x":0.537,"y":2.02,"g":"b"},{"x":2.287,"y":1.969,"g":"b"},{"x":2.276,"y":1.83,"g":"b"},
{"x":2.657,"y":1.831,"g":"b"},{"x":2.68,"y":1.779,"g":"b"},{"x":2.791,"y":1.761,"g":"b"},{"x":3.161,"y":1.917,"g":"b"},{"x":3.239,"y":1.693,"g":"b"},{"x":2.37,"y":1.29,"g":"b"},{"x":2.38,"y":1.112,"g":"b"},{"x":2.6,"y":1.401,"g":"b"},{"x":2.74,"y":1.419,"g":"b"},{"x":2.66,"y":0.992,"g":"b"},{"x":2.499,"y":0.854,"g":"b"},{"x":2.349,"y":0.771,"g":"b"},{"x":2.206,"y":0.562,"g":"b"},{"x":2.314,"y":0.534,"g":"b"},{"x":2.561,"y":0.423,"g":"b"},{"x":2.189,"y":0.227,"g":"b"},{"x":2.351,"y":-0.112,"g":"b"},{"x":3.391,"y":-0.634,"g":"b"},
{"x":-2.901,"y":0.387,"g":"b"},{"x":-2.83,"y":-0.015,"g":"b"},{"x":-2.545,"y":-0.265,"g":"b"},{"x":-2.51,"y":-0.29,"g":"b"},{"x":-2.932,"y":-0.503,"g":"b"},{"x":-2.743,"y":-1.027,"g":"b"},{"x":-2.432,"y":-1.339,"g":"b"},{"x":-3.043,"y":-1.523,"g":"b"},{"x":-2.441,"y":-1.642,"g":"b"},{"x":-3.099,"y":-1.982,"g":"b"},{"x":-2.571,"y":-1.982,"g":"b"},{"x":-1.861,"y":-2.486,"g":"b"},{"x":-1.59,"y":-2.441,"g":"b"},{"x":-1.602,"y":-2.556,"g":"b"},{"x":-1.569,"y":-2.626,"g":"b"},{"x":-1.791,"y":-2.826,"g":"b"},{"x":-1.633,"y":-2.826,"g":"b"},{"x":-1.46,"y":-2.937,"g":"b"},{"x":-1.821,"y":-3.187,"g":"b"},{"x":-1.012,"y":-3.179,"g":"b"},{"x":-0.97,"y":-3.376,"g":"b"},{"x":-0.036,"y":-2.619,"g":"b"},{"x":0.019,"y":-2.626,"g":"b"},{"x":0.168,"y":-2.569,"g":"b"},
{"x":2.226,"y":0.617,"g":"g"},{"x":2.329,"y":-0.084,"g":"g"},{"x":-2.408,"y":-1.298,"g":"g"},{"x":0.55,"y":2.1,"g":"g"}
]},"mark":{"type":"point","filled":true,"opacity":1,"size":240},"encoding":{"x":{"field":"x","type":"quantitative"},"y":{"field":"y","type":"quantitative"},"color":{"field":"g","type":"nominal","scale":{"domain":["g","r","b"],"range":["#A0A0A0","#FF0000","#000000"]},"legend":null}}},
{"data":{"values":[
{"x":1.536,"y":5.369,"x2":1.677,"y2":5.111},{"x":-0.46,"y":5.074,"x2":0.021,"y2":4.317},{"x":0.17,"y":5.083,"x2":0.984,"y2":4.05},{"x":0.29,"y":4.483,"x2":0.382,"y2":4.207},{"x":-0.616,"y":3.736,"x2":-0.134,"y2":4.142},{"x":-1.012,"y":3.266,"x2":-0.786,"y2":3.164},{"x":3.27,"y":3.561,"x2":4.331,"y2":4.031},{"x":3.425,"y":3.552,"x2":3.142,"y2":3.118},{"x":3.503,"y":3.044,"x2":4.416,"y2":3.137},{"x":3.439,"y":2.952,"x2":3.192,"y2":2.657},{"x":1.989,"y":1.744,"x2":2.286,"y2":1.393},{"x":2.909,"y":1.734,"x2":4.083,"y2":1.338},{"x":2.845,"y":1.375,"x2":3.8,"y2":0.876},{"x":1.507,"y":1.319,"x2":2.272,"y2":1.144},{"x":1.514,"y":0.839,"x2":2.116,"y2":0.59},{"x":2.675,"y":0.406,"x2":3.284,"y2":0.249},{"x":-1.507,"y":-2.482,"x2":-1.125,"y2":-2.14},{"x":0.085,"y":-2.74,"x2":0.269,"y2":-3.035},{"x":-1.868,"y":-3.321,"x2":-2.017,"y2":-3.625},{"x":-1.599,"y":-2.97,"x2":-1.458,"y2":-3.515}
]},"mark":{"type":"rule","color":"#000000","strokeWidth":4},"encoding":{"x":{"field":"x","type":"quantitative"},"y":{"field":"y","type":"quantitative"},"x2":{"field":"x2"},"y2":{"field":"y2"}}},
{"data":{"values":[
{"t":"TP53","x":2.265,"y":8.236},{"t":"MARCH5","x":3.807,"y":7.666},{"t":"RPL11","x":0.418,"y":7.26},{"t":"UBQLN1","x":3.907,"y":7.159},{"t":"BAK1","x":4.89,"y":7.011},{"t":"ENY2","x":3.999,"y":6.614},{"t":"APAF1","x":5.442,"y":6.55},{"t":"HEATR3","x":0.212,"y":6.319},{"t":"CASP9","x":3.071,"y":6.236},{"t":"PLAA","x":6.221,"y":5.839},{"t":"HCCS","x":2.293,"y":5.784},{"t":"NXT1","x":3.241,"y":5.673},{"t":"XPO7","x":0.602,"y":5.517},{"t":"SPOP","x":1.444,"y":5.507},{"t":"FAF2","x":4.034,"y":5.221},{"t":"CDKN1A","x":-0.962,"y":5.074},{"t":"RB1","x":-0.092,"y":5.083},{"t":"GTF3A","x":1.118,"y":5.055},{"t":"UBE2K","x":2.3,"y":5.055},{"t":"VDAC2","x":3.213,"y":5.018},{"t":"RIOK3","x":-0.602,"y":4.631},{"t":"EIF4A1","x":0.269,"y":4.631},{"t":"SUV420H1","x":1.996,"y":4.576},{"t":"CYCS","x":3.836,"y":4.53},{"t":"DIABLO","x":4.735,"y":4.493},{"t":"MEAF6","x":2.951,"y":4.465},{"t":"FBXO11","x":0.885,"y":4.308},{"t":"RPL5","x":-1.005,"y":4.179},{"t":"MIOS","x":1.67,"y":4.161},{"t":"MFN1","x":2.626,"y":4.05},{"t":"HSPD1","x":3.829,"y":4.022},{"t":"AURKB","x":4.749,"y":4.022},{"t":"MCL1","x":-0.177,"y":3.81},{"t":"PPP6C","x":-1.019,"y":3.708},{"t":"PCBP2","x":2.159,"y":3.718},{"t":"KCTD5","x":1.04,"y":3.653},{"t":"RAD23B","x":3.892,"y":3.57},{"t":"BTAF1","x":0.488,"y":3.459},{"t":"SNN","x":-0.226,"y":3.33},{"t":"RPTOR","x":2.895,"y":3.266},{"t":"EBF1","x":-1.33,"y":3.256},{"t":"EIF4G1","x":4.834,"y":3.127},{"t":"HARS","x":2.449,"y":3.044},{"t":"TRIAP1","x":3.878,"y":2.952},{"t":"TTC14","x":-0.531,"y":2.887},{"t":"YPEL5","x":-1.706,"y":2.804},{"t":"COPS7B","x":4.211,"y":2.509},{"t":"SCAF4","x":-0.467,"y":2.399},{"t":"EIF4G2","x":-1.359,"y":2.343},{"t":"CCT7","x":3.277,"y":2.334},{"t":"ALG5","x":2.838,"y":2.057},{"t":"PELO","x":4.048,"y":2.048},{"t":"COL14A1","x":-0.694,"y":1.827},{"t":"BRF1","x":0.269,"y":1.744},{"t":"DNAJC3","x":1.514,"y":1.744},{"t":"TSR2","x":3.652,"y":1.605},{"t":"BACH2","x":2.074,"y":1.541},{"t":"CARS","x":4.416,"y":1.319},{"t":"ABCF3","x":1.097,"y":1.292},{"t":"MAPK14","x":3.227,"y":1.144},{"t":"UFM1","x":1.946,"y":1.042},{"t":"USP15","x":4.197,"y":0.867},{"t":"MFAP3","x":1.104,"y":0.83},{"t":"RTCB","x":2.93,"y":0.692},{"t":"C10orf68","x":1.606,"y":0.378},{"t":"SEC31A","x":3.737,"y":0.24},{"t":"FAM208A","x":-2.987,"y":0.637},{"t":"ZFC3H1","x":-3.057,"y":0.175},{"t":"RBM7","x":-2.144,"y":0.148},{"t":"EXTL2","x":2.795,"y":0.138},{"t":"CBFA2T3","x":1.741,"y":-0.074},{"t":"UBE4A","x":-3.107,"y":-0.277},{"t":"XIAP","x":-2.13,"y":-0.323},{"t":"WBP4","x":2.718,"y":-0.406},{"t":"USP5","x":-2.527,"y":-0.766},{"t":"TOP2A","x":3.602,"y":-0.913},{"t":"MAP3K7","x":-3.036,"y":-1.255},{"t":"MUL1","x":-2.017,"y":-1.218},{"t":"SEPHS2","x":-1.89,"y":-1.661},{"t":"MTCH2","x":-3.086,"y":-1.799},{"t":"ING1","x":-1.536,"y":-2.131},{"t":"ATXN2L","x":-0.686,"y":-2.131},{"t":"DDX3X","x":-3.1,"y":-2.26},{"t":"TSC2","x":-2.258,"y":-2.26},{"t":"LGI4","x":0.17,"y":-2.279},{"t":"TCF3","x":-1.168,"y":-2.583},{"t":"BRD2","x":-2.866,"y":-2.694},{"t":"TCF4","x":0.573,"y":-2.74},{"t":"WAPAL","x":-0.502,"y":-3.035},{"t":"ABCB4","x":0.418,"y":-3.201},{"t":"CNOT2","x":-3.093,"y":-3.21},{"t":"SIN3A","x":-2.265,"y":-3.21},{"t":"VPS51","x":-1.423,"y":-3.22},{"t":"PSMC5","x":-2.442,"y":-3.662},{"t":"HEXIM1","x":-1.465,"y":-3.672},{"t":"MSI2","x":-0.602,"y":-3.644}
]},"mark":{"type":"text","font":"Liberation Sans","fontSize":36,"dy":2,"align":"center","baseline":"middle","color":"#000000"},"encoding":{"x":{"field":"x","type":"quantitative"},"y":{"field":"y","type":"quantitative"},"text":{"field":"t"}}}
]}
